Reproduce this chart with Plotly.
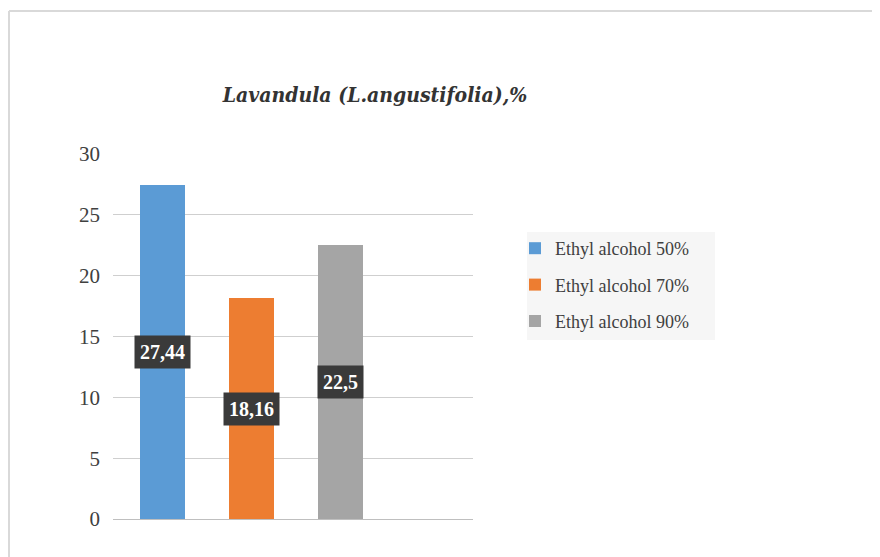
import plotly.graph_objects as go

series_names = ["Ethyl alcohol 50%", "Ethyl alcohol 70%", "Ethyl alcohol 90%"]
values = [27.44, 18.16, 22.5]
value_labels = ["27,44", "18,16", "22,5"]
colors = ["#5b9bd5", "#ed7d31", "#a5a5a5"]
y_ticks = [0, 5, 10, 15, 20, 25, 30]

W, H = 872, 549  # page adds 8px body margin

def px_x(X):
    return (X - 113) / 360

def px_y(Y):
    return (519 - Y) / 365

fig = go.Figure()
for i, (name, v, c) in enumerate(zip(series_names, values, colors)):
    fig.add_trace(go.Bar(
        x=[i], y=[v], name=name, marker=dict(color=c, line=dict(width=0)),
        width=0.5, legendgroup=name, hoverinfo="skip",
    ))
    fig.add_annotation(
        x=i, y=v / 2, text="<b>" + value_labels[i] + "</b>", showarrow=False,
        font=dict(family="Liberation Serif", size=20, color="white"),
        bgcolor="#3a3a3a", borderpad=5, xanchor="center", yanchor="middle",
    )

fig.update_layout(
    width=W, height=H,
    margin=dict(l=105, r=407, t=146, b=38),
    paper_bgcolor="white", plot_bgcolor="white",
    title=dict(
        text="<b><i>Lavandula (L.angustifolia),%</i></b>",
        font=dict(family="DejaVu Serif Condensed, Liberation Serif, serif",
                  size=21, color="#333333"),
        x=(375 - 8) / W, xanchor="center", xref="container",
        y=1 - (95 - 8) / H, yref="container", yanchor="middle",
    ),
    showlegend=True,
    legend=dict(
        x=px_x(515), y=px_y(230), xanchor="left", yanchor="top",
        bgcolor="rgba(0,0,0,0)",
        font=dict(family="Liberation Serif", size=18, color="#404040"),
        traceorder="grouped", tracegroupgap=10,
    ),
    xaxis=dict(
        range=[-0.556, 3.49], showticklabels=False, showgrid=False,
        zeroline=False, showline=False, ticks="",
    ),
    yaxis=dict(
        range=[0, 30], tickvals=y_ticks, showgrid=True, gridcolor="#cfcfcf", gridwidth=1,
        zeroline=True, zerolinecolor="#bfbfbf", zerolinewidth=1,
        showline=False, ticks="",
        tickfont=dict(family="Liberation Serif", size=21, color="#404040"),
        ticklabelstandoff=12,
    ),
    bargap=0,
)

# legend background
fig.add_shape(type="rect", xref="paper", yref="paper", layer="below",
              x0=px_x(527), x1=px_x(715), y0=px_y(232), y1=px_y(340),
              fillcolor="#f6f6f6", line=dict(width=0))

# chart frame (light gray border, top and left visible)
fig.add_shape(type="line", xref="paper", yref="paper",
              x0=px_x(9), x1=px_x(880), y0=px_y(11), y1=px_y(11),
              line=dict(color="#d9d9d9", width=2))
fig.add_shape(type="line", xref="paper", yref="paper",
              x0=px_x(9), x1=px_x(9), y0=px_y(11), y1=px_y(557),
              line=dict(color="#d9d9d9", width=2))

fig.write_html("out.html")
